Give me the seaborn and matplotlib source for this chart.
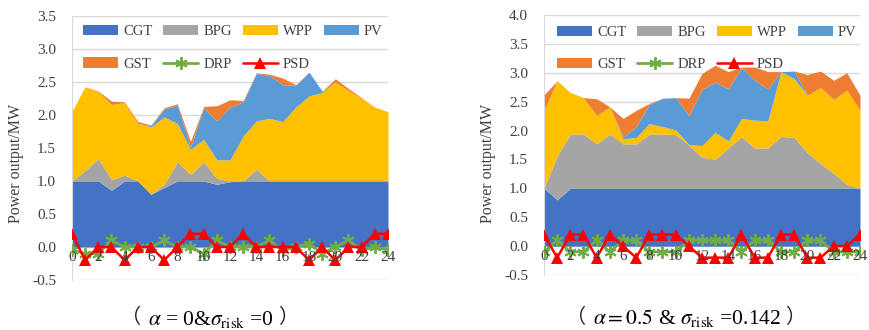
import matplotlib
matplotlib.use('Agg')
import matplotlib.pyplot as plt
import seaborn as sns
from matplotlib.ticker import MultipleLocator, FormatStrFormatter

hours = list(range(25))
series_names = ['CGT', 'BPG', 'WPP', 'PV', 'GST', 'DRP', 'PSD']
x_tick_labels = [str(h) for h in range(0, 25, 2)]

# ---- left panel (alpha = 0) ----
CGT_L = [1.0, 1.0, 1.0, 0.86, 1.0, 1.0, 0.8, 0.9, 1.0, 1.0, 1.0, 0.95, 0.99, 1.0, 1.0, 1.0, 1.0, 1.0, 1.0, 1.0, 1.0, 1.0, 1.0, 1.0, 1.0]
BPG_L = [0, 0.16, 0.34, 0.16, 0.09, 0, 0, 0.05, 0.29, 0.1, 0.29, 0.09, 0.01, 0, 0.18, 0, 0, 0, 0, 0, 0, 0, 0, 0, 0]
WPP_L = [1.06, 1.27, 1.01, 1.14, 1.10, 0.87, 1.02, 1.02, 0.58, 0.38, 0.34, 0.28, 0.32, 0.68, 0.73, 0.95, 0.9, 1.12, 1.29, 1.34, 1.5, 1.37, 1.25, 1.12, 1.05]
PV_L = [0, 0, 0, 0, 0, 0, 0.02, 0.12, 0.28, 0.03, 0.48, 0.59, 0.8, 0.52, 0.72, 0.65, 0.56, 0.33, 0.36, 0.02, 0, 0, 0, 0, 0]
GST_L = [0, 0, 0.01, 0.05, 0.01, 0.03, 0.01, 0.02, 0.02, 0.09, 0.02, 0.23, 0.11, 0.02, 0.01, 0.02, 0.1, 0.01, 0, 0, 0.05, 0.03, 0.01, 0, 0]
DRP_L = [-0.05, -0.1, -0.1, 0.1, 0, 0, 0, 0.1, 0, 0, -0.1, 0.1, 0, 0, 0, 0.1, -0.05, 0, 0.05, -0.1, 0, 0.1, -0.05, 0, -0.05]
PSD_L = [0.2, -0.2, 0, 0, -0.2, 0, 0, -0.2, 0, 0.2, 0.2, 0, 0, 0.2, 0, 0, 0, 0, -0.2, 0, -0.2, 0, 0, 0.2, 0.2]

# ---- right panel (alpha = 0.5) ----
CGT_R = [1.0, 0.8, 1.0, 1.0, 1.0, 1.0, 1.0, 1.0, 1.0, 1.0, 1.0, 1.0, 1.0, 1.0, 1.0, 1.0, 1.0, 1.0, 1.0, 1.0, 1.0, 1.0, 1.0, 1.0, 1.0]
BPG_R = [0, 0.76, 0.94, 0.94, 0.77, 0.94, 0.77, 0.77, 0.94, 0.94, 0.93, 0.75, 0.54, 0.5, 0.7, 0.89, 0.7, 0.7, 0.9, 0.88, 0.62, 0.43, 0.26, 0.07, 0]
WPP_R = [1.35, 1.30, 0.72, 0.63, 0.49, 0.47, 0.09, 0.11, 0.18, 0.13, 0.08, 0.01, 0.2, 0.47, 0.12, 0.32, 0.48, 0.47, 1.12, 1.02, 0.99, 1.32, 1.28, 1.63, 1.35]
PV_R = [0, 0, 0, 0, 0, 0, 0.03, 0.19, 0.33, 0.49, 0.56, 0.5, 0.97, 0.87, 0.9, 0.88, 0.69, 0.55, 0, 0.13, 0, 0, 0, 0, 0]
GST_R = [0.27, 0, 0, 0, 0.29, 0, 0.32, 0.28, 0.02, 0, 0, 0.30, 0.28, 0.29, 0.30, 0.01, 0.23, 0.30, 0, 0, 0.36, 0.28, 0.33, 0.30, 0.26]
DRP_R = [-0.1, 0.1, -0.1, -0.1, 0.1, -0.1, 0.1, 0.1, -0.1, -0.1, -0.1, 0.1, 0.1, 0.1, 0.1, -0.1, 0.1, 0.1, -0.1, -0.1, 0.1, 0.1, -0.1, -0.1, -0.1]
PSD_R = [0.2, -0.2, 0.2, 0.2, -0.2, 0.2, 0, -0.2, 0.2, 0.2, 0.2, 0, -0.2, -0.2, -0.2, 0.2, -0.2, -0.2, 0.2, 0.2, -0.2, -0.2, 0, 0, 0.2]

caption_L = r'$\alpha$ = 0&$\sigma_{\mathrm{risk}}$ =0'
caption_R = r'$\alpha = \mathrm{0.5}$ & $\sigma_{\mathrm{risk}}$ =0.142'
y_label = 'Power output/MW'

sns.set_style('white')
plt.rcParams['font.family'] = ['Liberation Serif', 'Noto Sans CJK SC']
plt.rcParams['mathtext.fontset'] = 'stix'
plt.rcParams['axes.unicode_minus'] = False

colors = {'CGT': '#4472C4', 'BPG': '#A5A5A5', 'WPP': '#FFC000', 'PV': '#5B9BD5',
          'GST': '#ED7D31', 'DRP': '#70AD47', 'PSD': '#FF0000'}
text_color = '#404040'
grid_color = '#D9D9D9'

W, H = 870, 330
fig = plt.figure(figsize=(W / 100, H / 100), dpi=100)
ax1 = fig.add_axes([72 / W, 1 - 280 / H, 316 / W, 264 / H])
ax2 = fig.add_axes([544 / W, 1 - 275 / H, 316 / W, 260 / H])


def draw(ax, cgt, bpg, wpp, pv, gst, drp, psd, ymax, leg_x, leg_y, lab_y):
    polys = ax.stackplot(hours, cgt, bpg, wpp, pv, gst,
                         colors=[colors[n] for n in series_names[:5]],
                         labels=series_names[:5], linewidth=0, zorder=2)
    sns.lineplot(x=hours, y=drp, ax=ax, color=colors['DRP'], marker=(6, 2, 0),
                 markersize=9, markeredgewidth=1.4, markeredgecolor=colors['DRP'],
                 linewidth=2, label='DRP', zorder=4)
    sns.lineplot(x=hours, y=psd, ax=ax, color=colors['PSD'], marker='^',
                 markersize=8.5, markeredgewidth=0, linewidth=1.8, label='PSD', zorder=5)
    ax.set_xlim(0, 24)
    ax.set_ylim(-0.5, ymax)
    ax.yaxis.set_major_locator(MultipleLocator(0.5))
    ax.yaxis.set_major_formatter(FormatStrFormatter('%.1f'))
    ax.set_xticks(range(0, 25, 2))
    ax.set_xticklabels(x_tick_labels)
    ax.grid(axis='y', color=grid_color, linewidth=1)
    ax.grid(axis='x', visible=False)
    ax.set_axisbelow(True)
    ax.xaxis.set_zorder(6)
    ax.spines['bottom'].set_position(('data', 0))
    ax.spines['bottom'].set_color(grid_color)
    ax.spines['bottom'].set_zorder(1)
    ax.spines['left'].set_color(grid_color)
    ax.spines['top'].set_visible(False)
    ax.spines['right'].set_visible(False)
    ax.tick_params(axis='both', length=0, labelsize=11, colors=text_color)
    ax.tick_params(axis='x', pad=3)
    ax.tick_params(axis='y', pad=11.5)
    ax.set_xlabel('')
    ax.set_ylabel(y_label, fontsize=11.5, color=text_color)
    ax.yaxis.set_label_coords(-0.152, lab_y)
    lines = ax.get_lines()
    handles = [polys[0], polys[4], polys[1], lines[0], polys[2], lines[1], polys[3]]
    labels = ['CGT', 'GST', 'BPG', 'DRP', 'WPP', 'PSD', 'PV']
    leg = ax.legend(handles, labels, ncol=4, loc='upper left',
                    bbox_to_anchor=(leg_x, leg_y), frameon=False,
                    fontsize=10.5, handlelength=2.4, handletextpad=0.35,
                    columnspacing=0.75, labelspacing=1.3, borderpad=0,
                    borderaxespad=0)
    for t in leg.get_texts():
        t.set_color(text_color)


draw(ax1, CGT_L, BPG_L, WPP_L, PV_L, GST_L, DRP_L, PSD_L, 3.5, 0.035, 0.965, 0.443)
draw(ax2, CGT_R, BPG_R, WPP_R, PV_R, GST_R, DRP_R, PSD_R, 4.0, 0.041, 0.958, 0.431)


def caption(x, y, s, fs, lgap, rgap):
    mid = fig.text(x, y, s, ha='center', va='center', fontsize=fs, color='black')
    fig.add_artist(matplotlib.text.Annotation(
        '（', xy=(0, 0.55), xycoords=mid, xytext=(-lgap, 0), textcoords='offset points',
        ha='right', va='center', fontsize=fs - 1, family=['Noto Sans CJK SC'],
        annotation_clip=False))
    fig.add_artist(matplotlib.text.Annotation(
        '）', xy=(1, 0.55), xycoords=mid, xytext=(rgap, 0), textcoords='offset points',
        ha='left', va='center', fontsize=fs - 1, family=['Noto Sans CJK SC'],
        annotation_clip=False))
    return mid


caption(0.243, 0.033, caption_L, 15.5, 5, 2.5)
caption(0.790, 0.035, caption_R, 15.5, 5, 2.5)

fig.savefig('out.png', dpi=100)
